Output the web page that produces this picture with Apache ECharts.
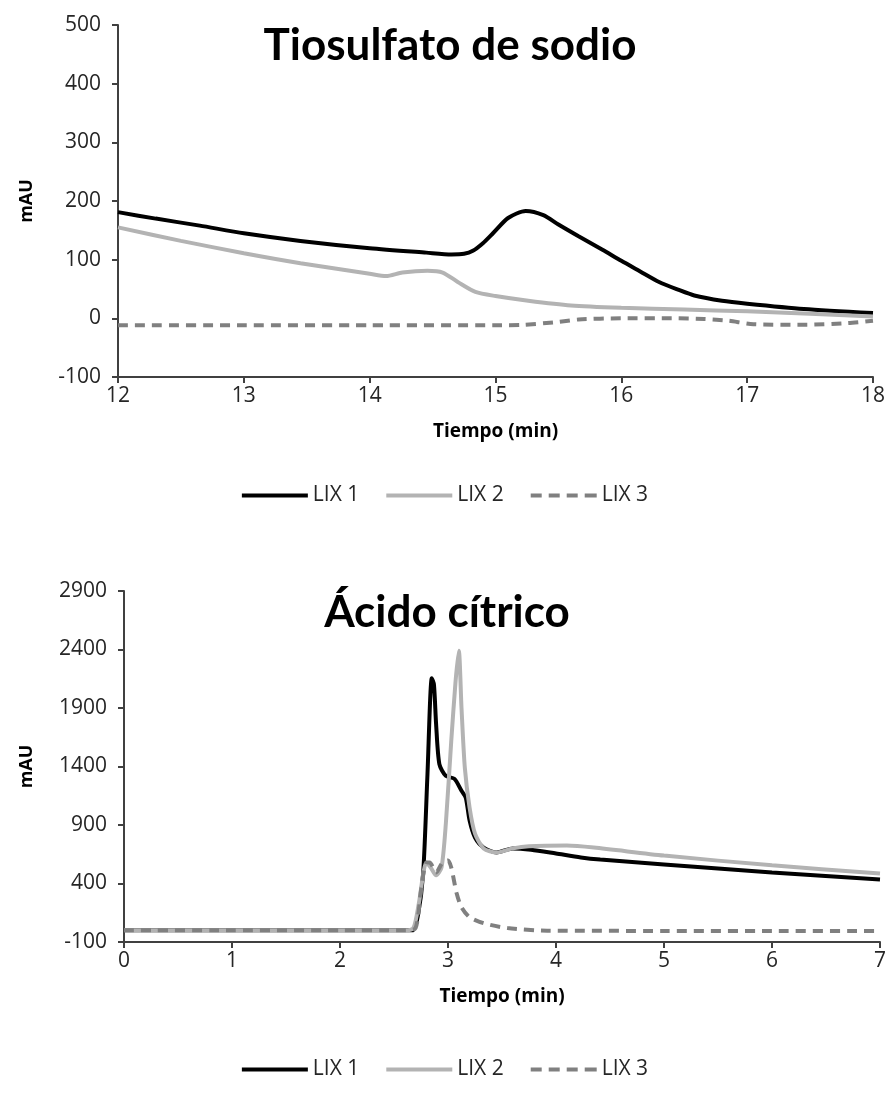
<!DOCTYPE html>
<html>
<head>
<meta charset="utf-8">
<script src="https://cdn.jsdelivr.net/npm/echarts@6/dist/echarts.min.js"></script>
<style>html,body{margin:0;padding:0;background:#fff}#c{width:890px;height:1097px}</style>
</head>
<body>
<div id="c"></div>
<script>
// ---- Top chart: Tiosulfato de sodio ----
const topTitle = 'Tiosulfato de sodio';
const topYTicks = [-100, 0, 100, 200, 300, 400, 500];
const topXTicks = [12, 13, 14, 15, 16, 17, 18];
const tTop1 = [12.0,12.3,12.65,13.0,13.45,14.0,14.45,14.65,14.75,14.82,14.9,14.98,15.1,15.24,15.38,15.5,15.66,15.85,16.0,16.15,16.3,16.45,16.58,16.8,17.0,17.45,18.0];
const lix1Top = [181,170,158,145,132,119.5,112,109,110,115,128,145,171,183,176,160,140,117,98,80,62,49,39,30,25,16,9];
const tTop2 = [12.0,12.5,13.0,13.45,14.0,14.13,14.26,14.46,14.58,14.7,14.84,15.0,15.26,15.6,16.0,16.5,17.0,17.5,18.0];
const lix2Top = [155,132,111,94,76,72,78,81,78,62,45,38,30,22,18,15,12,8,3];
const tTop3 = [12.0,13.0,14.0,15.0,15.22,15.46,15.66,16.0,16.4,16.66,16.85,17.05,17.45,17.8,18.0];
const lix3Top = [-12,-12,-12,-12,-11,-7,-2,0,0,-1,-4,-10,-11,-8,-4];

// ---- Bottom chart: Ácido cítrico ----
const botTitle = 'Ácido cítrico';
const botYTicks = [-100, 400, 900, 1400, 1900, 2400, 2900];
const botXTicks = [0, 1, 2, 3, 4, 5, 6, 7];
const tBot1 = [0,1,2,2.6,2.67,2.72,2.77,2.81,2.85,2.87,2.89,2.92,2.98,3.06,3.125,3.165,3.2,3.25,3.33,3.45,3.6,3.77,4.0,4.23,4.41,5.0,6.0,7.0];
const lix1Bot = [0,0,0,0,0,120,487,1336,2155,2100,1760,1420,1320,1294,1192,1132,937,792,707,665,700,688,656,623,605,563,495,435];
const tBot2 = [0,1,2,2.6,2.68,2.73,2.8,2.84,2.89,2.94,2.98,3.03,3.07,3.1,3.125,3.156,3.2,3.25,3.33,3.45,3.6,3.75,4.1,4.35,5.0,6.0,7.0];
const lix2Bot = [0,0,0,0,20,231,580,537,470,537,911,1617,2127,2390,1900,1387,1047,826,700,665,700,718,724,707,639,555,486];
const tBot3 = [0,1,2,2.6,2.7,2.75,2.8,2.83,2.89,2.95,3.0,3.03,3.08,3.125,3.2,3.33,3.55,3.92,5,6,7];
const lix3Bot = [0,0,0,0,20,342,580,580,495,580,597,537,316,197,112,61,19,-3,-5,-5,-5];

const seriesNames = ['LIX 1', 'LIX 2', 'LIX 3'];
const xName = 'Tiempo (min)';
const yName = 'mAU';

const FONT = 'Open Sans';
const AXC = '#404040';
const colors = ['#000000', '#b3b3b3', '#808080'];
const zip = (a, b) => a.map((v, i) => [v, b[i]]);

function mkX(idx, min, max, ticks) {
  return {
    type: 'value', gridIndex: idx, min: min, max: max,
    name: xName, nameLocation: 'middle', nameGap: 45,
    nameTextStyle: { fontFamily: FONT, fontWeight: 'bold', fontSize: 19, color: '#000' },
    axisLine: { show: true, onZero: false, lineStyle: { color: AXC, width: 2 } },
    axisTick: { show: true, inside: false, length: 6, lineStyle: { color: AXC, width: 2 }, customValues: ticks },
    axisLabel: { fontFamily: FONT, fontSize: 21, color: '#262626', margin: 9, customValues: ticks,
      formatter: v => String(v) },
    splitLine: { show: false }
  };
}
function mkY(idx, min, max, ticks, gap) {
  return {
    type: 'value', gridIndex: idx, min: min, max: max,
    name: yName, nameLocation: 'middle', nameGap: gap, nameRotate: 90,
    nameTextStyle: { fontFamily: FONT, fontWeight: 'bold', fontSize: 18, color: '#000' },
    axisLine: { show: true, onZero: false, lineStyle: { color: AXC, width: 2 } },
    axisTick: { show: true, inside: false, length: 6, lineStyle: { color: AXC, width: 2 }, customValues: ticks },
    axisLabel: { fontFamily: FONT, fontSize: 21, color: '#262626', margin: 17, customValues: ticks,
      formatter: v => String(v) },
    splitLine: { show: false }
  };
}
function mkS(name, i, data, xi) {
  return {
    name: name, type: 'line', xAxisIndex: xi, yAxisIndex: xi, data: data,
    showSymbol: false, symbol: 'none', smooth: 0.25,
    lineStyle: { color: colors[i], width: 4, type: i === 2 ? [10, 7] : 'solid' },
    itemStyle: { color: colors[i] }, animation: false
  };
}
const dashIcon = 'path://M0,0h11v4h-11z M18,0h11v4h-11z M36,0h11v4h-11z M54,0h12v4h-12z';
const legendData = [
  { name: seriesNames[0], icon: 'rect' },
  { name: seriesNames[1], icon: 'rect' },
  { name: seriesNames[2], icon: dashIcon }
];
const legendBase = {
  data: legendData, left: 'center', itemWidth: 66, itemHeight: 4, itemGap: 27,
  textStyle: { fontFamily: FONT, fontSize: 21, color: '#262626' }, selectedMode: false
};

const chart = echarts.init(document.getElementById('c'), null, { renderer: 'canvas' });
chart.setOption({
  backgroundColor: '#fff',
  animation: false,
  title: [
    { text: topTitle, left: 445, top: 19, textAlign: 'center',
      textStyle: { fontFamily: 'Lato', fontWeight: 'bold', fontSize: 44, color: '#000' } },
    { text: botTitle, left: 442, top: 586, textAlign: 'center',
      textStyle: { fontFamily: 'Lato', fontWeight: 'bold', fontSize: 44, color: '#000' } }
  ],
  legend: [
    Object.assign({ top: 480 }, legendBase),
    Object.assign({ top: 1054 }, legendBase)
  ],
  grid: [
    { left: 118, right: 17, top: 25, height: 352 },
    { left: 124, right: 10, top: 591, height: 351 }
  ],
  xAxis: [ mkX(0, 12, 18, topXTicks), mkX(1, 0, 7, botXTicks) ],
  yAxis: [ mkY(0, -100, 500, topYTicks, 82), mkY(1, -100, 2900, botYTicks, 88) ],
  series: [
    mkS(seriesNames[0], 0, zip(tTop1, lix1Top), 0),
    mkS(seriesNames[1], 1, zip(tTop2, lix2Top), 0),
    mkS(seriesNames[2], 2, zip(tTop3, lix3Top), 0),
    mkS(seriesNames[0], 0, zip(tBot1, lix1Bot), 1),
    mkS(seriesNames[1], 1, zip(tBot2, lix2Bot), 1),
    mkS(seriesNames[2], 2, zip(tBot3, lix3Bot), 1)
  ]
});
</script>
</body>
</html>
